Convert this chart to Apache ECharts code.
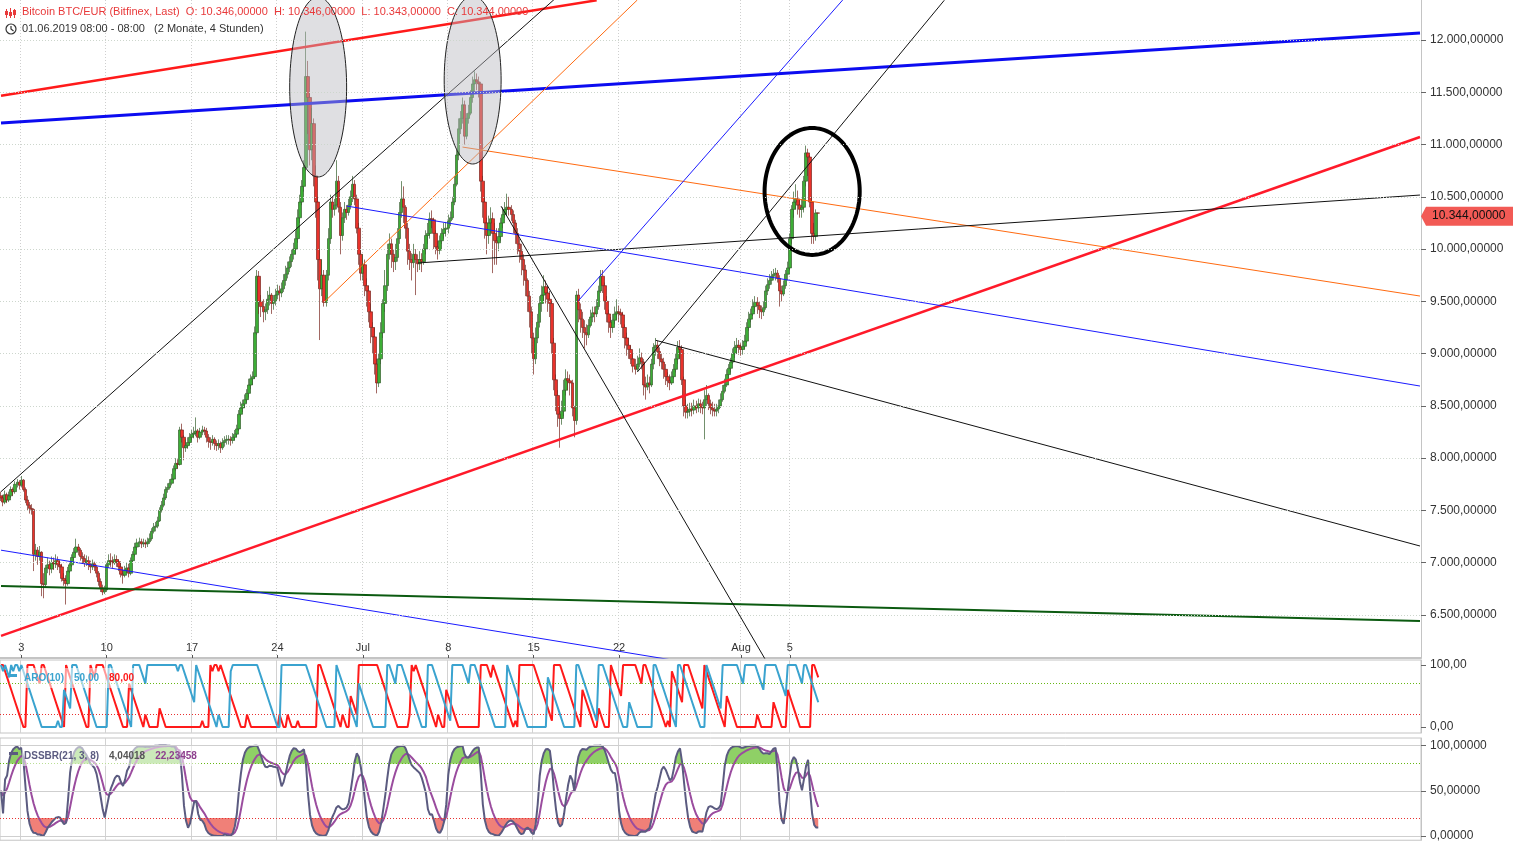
<!DOCTYPE html>
<html><head><meta charset="utf-8">
<script src="https://cdn.jsdelivr.net/npm/echarts@6/dist/echarts.min.js"></script>
<style>html,body{margin:0;padding:0;background:#fff;overflow:hidden}#c{width:1513px;height:842px}</style>
</head><body><div id="c"></div>
<script>
// ---------------- DATA (4-hour candles, BTC/EUR Bitfinex, from 01.06.2019 08:00) ----------------
const firstOpen = 7640;
const closes = [
 7620,7580,7650,7600,
 7640,7700,7680,7750,7770,7740,
 7790,7700,7600,7550,7520,7510,
 7080,7120,7060,7100,6800,6790,
 6950,6980,6940,7000,6990,7020,
 6980,6960,6850,6830,6800,6920,
 6980,7050,7100,7150,7120,7060,
 7040,7000,7020,6980,6960,6990,
 6960,6900,6820,6760,6720,6740,
 6980,7020,7010,7000,7030,7010,
 6960,6890,6880,6930,6950,6900,
 7020,7080,7150,7190,7200,7180,
 7190,7180,7200,7230,7300,7340,
 7350,7400,7500,7550,7620,7700,
 7720,7760,7800,7900,7950,7940,
 8270,8200,8100,8120,8150,8200,
 8230,8240,8260,8200,8250,8270,
 8260,8200,8160,8150,8180,8140,
 8120,8140,8100,8150,8170,8180,
 8180,8170,8200,8230,8280,8420,
 8480,8520,8560,8620,8700,8760,
 8780,9200,9740,9500,9450,9400,
 9420,9520,9560,9480,9500,9560,
 9600,9580,9620,9700,9760,9820,
 9880,9950,10000,10100,10300,10450,
 10600,10780,11650,11450,10950,11200,
 10700,10450,9900,9620,9750,9490,
 9750,10100,10450,10380,10420,10650,
 10400,10130,10300,10380,10350,10420,
 10500,10620,10480,10200,9950,9770,
 9850,9650,9600,9400,9250,9160,
 8900,8720,8950,9200,9480,9650,
 9950,10050,9950,9880,9920,10100,
 10350,10480,10400,10200,9980,9900,
 9870,9950,9900,9860,9900,9880,
 10000,10130,10150,10290,10280,10150,
 10020,9990,10080,10150,10190,10200,
 10270,10300,10450,10620,10900,11150,
 11250,11380,11080,11250,11300,11450,
 11580,11620,11600,11580,10650,10450,
 10250,10130,10250,10290,10150,10080,
 10060,10120,10250,10330,10380,10400,
 10380,10330,10250,10150,10050,9980,
 9900,9800,9700,9550,9400,9150,
 8950,9150,9300,9480,9560,9640,
 9580,9520,9480,9100,8750,8600,
 8420,8380,8450,8650,8760,8740,
 8720,8480,8360,9560,9420,9330,
 9250,9200,9180,9270,9350,9390,
 9380,9450,9600,9740,9650,9500,
 9380,9300,9250,9320,9380,9400,
 9390,9370,9250,9150,9080,9040,
 8950,8880,8850,8900,8960,8920,
 8700,8680,8720,8700,8900,9060,
 9080,9020,8950,8920,8850,8780,
 8740,8720,8780,8850,8950,9060,
 9040,8750,8500,8440,8450,8470,
 8460,8500,8480,8520,8490,8480,
 8560,8600,8520,8480,8460,8450,
 8470,8500,8560,8640,8700,8800,
 8860,8920,9000,9060,9080,9060,
 9040,9070,9120,9250,9330,9380,
 9450,9490,9460,9420,9400,9440,
 9600,9660,9700,9740,9760,9770,
 9720,9600,9570,9650,9760,9820,
 10100,10380,10450,10480,10420,10380,
 10400,10650,10920,10880,10450,10150,
 10120,10346,10344
];
const highs = [
 7680,7650,7690,7670,
 7680,7730,7720,7780,7800,7790,
 7830,7800,7720,7640,7580,7560,
 7520,7180,7150,7160,7110,6900,
 6980,7050,7020,7060,7050,7080,
 7060,7020,6990,6900,6880,6960,
 7010,7080,7140,7230,7180,7140,
 7100,7080,7070,7060,7020,7030,
 7010,6980,6920,6850,6790,6780,
 7000,7080,7090,7060,7080,7070,
 7030,7000,6930,6970,7000,6990,
 7050,7110,7190,7230,7240,7230,
 7230,7220,7240,7280,7330,7380,
 7390,7440,7530,7590,7660,7730,
 7760,7800,7850,7930,8000,7990,
 8300,8330,8220,8180,8200,8240,
 8270,8300,8390,8280,8290,8310,
 8300,8290,8230,8200,8220,8200,
 8170,8180,8160,8190,8210,8220,
 8220,8210,8240,8270,8320,8460,
 8540,8560,8610,8660,8760,8800,
 8830,9260,9800,9790,9560,9520,
 9480,9600,9640,9580,9560,9620,
 9660,9650,9680,9760,9840,9880,
 9930,10000,10060,10180,10380,10520,
 10660,10850,12080,11800,11500,11350,
 11250,10800,10500,10000,9900,9800,
 9800,10200,10520,10500,10480,10850,
 10700,10450,10350,10450,10420,10480,
 10560,10700,10660,10520,10250,10000,
 9950,9900,9720,9650,9480,9300,
 9250,8950,9000,9300,9520,9800,
 10050,10150,10100,10000,10050,10200,
 10450,10650,10600,10420,10250,10050,
 9960,10050,10000,9950,9980,9960,
 10050,10180,10250,10350,10370,10300,
 10180,10080,10130,10200,10250,10260,
 10330,10360,10500,10700,10950,11250,
 11320,11450,11420,11300,11380,11520,
 11650,11700,11680,11650,11600,10700,
 10500,10300,10320,10400,10350,10250,
 10200,10200,10300,10400,10450,10530,
 10500,10420,10370,10280,10200,10100,
 10050,9950,9850,9720,9600,9450,
 9200,9250,9380,9550,9650,9750,
 9700,9650,9600,9500,9150,8800,
 8650,8500,8550,8750,8850,8830,
 8800,8750,8500,9600,9620,9480,
 9400,9320,9280,9330,9420,9450,
 9450,9520,9650,9800,9800,9680,
 9550,9420,9350,9380,9450,9520,
 9460,9430,9400,9280,9200,9150,
 9080,9000,8950,8980,9050,9010,
 8950,8780,8800,8780,8950,9100,
 9150,9120,9060,9000,8960,8900,
 8820,8800,8830,8900,9000,9120,
 9130,9080,8780,8560,8520,8530,
 8530,8560,8550,8570,8560,8540,
 8650,8700,8620,8560,8540,8520,
 8520,8560,8620,8700,8760,8850,
 8900,8960,9050,9120,9150,9130,
 9100,9130,9180,9300,9400,9430,
 9520,9550,9540,9500,9460,9500,
 9650,9720,9760,9790,9810,9820,
 9800,9750,9650,9700,9800,9880,
 10150,10420,10550,10620,10560,10480,
 10480,10700,10990,10960,10900,10500,
 10250,10380,10346
];
const lows = [
 7590,7540,7560,7570,
 7580,7620,7640,7660,7720,7700,
 7720,7680,7570,7500,7470,7460,
 6920,7020,6980,7020,6680,6660,
 6770,6900,6880,6900,6930,6950,
 6930,6900,6820,6780,6600,6780,
 6900,6960,7020,7080,7070,7020,
 6990,6960,6970,6930,6900,6930,
 6920,6860,6780,6720,6690,6700,
 6720,6950,6960,6950,6980,6960,
 6920,6860,6800,6860,6900,6860,
 6880,7000,7060,7120,7150,7140,
 7150,7140,7150,7180,7210,7280,
 7300,7330,7390,7480,7530,7600,
 7670,7700,7740,7790,7880,7900,
 7930,8150,7980,8060,8090,8130,
 8170,8190,8210,8150,8180,8220,
 8220,8150,8100,8080,8120,8080,
 8070,8080,8050,8080,8110,8130,
 8130,8120,8140,8170,8200,8260,
 8400,8440,8480,8530,8580,8660,
 8700,8760,9180,9380,9350,9300,
 9320,9380,9460,9380,9420,9460,
 9520,9500,9540,9590,9650,9720,
 9780,9830,9900,9950,10060,10250,
 10420,10550,10750,11100,10800,10850,
 10600,10300,9700,9130,9550,9450,
 9450,9700,10050,10300,10320,10380,
 10350,9950,10080,10250,10280,10320,
 10380,10450,10420,10150,9850,9700,
 9700,9550,9450,9300,9100,9000,
 8800,8620,8680,8900,9150,9400,
 9600,9900,9820,9780,9800,9880,
 10050,10300,10250,10100,9850,9800,
 9700,9820,9560,9780,9800,9780,
 9850,9950,10050,10100,10200,10000,
 9950,9900,9950,10050,10100,10120,
 10150,10220,10280,10420,10600,10850,
 11100,11200,11000,11050,11200,11280,
 11400,11500,11520,11450,10550,10300,
 10100,9950,10050,10150,9770,9850,
 9850,9980,10080,10200,10300,10330,
 10320,10270,10150,10050,9950,9870,
 9750,9650,9550,9400,9250,9000,
 8800,8900,9100,9250,9400,9500,
 9480,9400,9350,9000,8650,8450,
 8300,8100,8320,8400,8600,8650,
 8600,8400,8200,8320,9300,9200,
 9150,9050,9080,9150,9250,9300,
 9300,9350,9420,9580,9580,9420,
 9300,9200,9150,9200,9280,9320,
 9300,9280,9150,9050,8980,8950,
 8900,8820,8800,8830,8870,8850,
 8600,8560,8650,8620,8680,8850,
 8980,8950,8880,8850,8760,8700,
 8680,8650,8700,8760,8820,8900,
 8950,8700,8400,8380,8380,8400,
 8400,8420,8430,8440,8430,8420,
 8180,8500,8460,8420,8400,8400,
 8400,8430,8480,8540,8620,8680,
 8760,8820,8900,8960,9000,8990,
 8980,8990,9040,9100,9220,9300,
 9360,9400,9380,9340,9330,9360,
 9420,9560,9620,9660,9700,9700,
 9680,9450,9500,9550,9620,9700,
 9800,10050,10300,10380,10330,10300,
 10300,10350,10600,10700,10400,10050,
 10050,10080,10343
];
// x axis: first slot and number of 4h slots shown (data + empty future area)
const firstSlotUTC = Date.UTC(2019, 5, 1, 8);
const slotCount = 699;
// x tick labels (slot time -> label)
const xTickLabels = [
 ['2019-06-03 00:00','3'],['2019-06-10 00:00','10'],['2019-06-17 00:00','17'],['2019-06-24 00:00','24'],
 ['2019-07-01 00:00','Jul'],['2019-07-08 00:00','8'],['2019-07-15 00:00','15'],['2019-07-22 00:00','22'],
 ['2019-08-01 00:00','Aug'],['2019-08-05 00:00','5']
];
const priceTicks = [6500,7000,7500,8000,8500,9000,9500,10000,10500,11000,11500,12000];
const priceRange = [6088.7, 12382.6];
const aroonTicks = [0, 100];
const aroonLevels = [70, 20];
const dssTicks = [0, 50, 100];
const dssLevels = [80, 20];
// drawn trend lines: [slotIndex, price] endpoints
const trendRedUpper   = [[0, 11466], [293, 12380]];
const trendBlueThick  = [[0, 11206], [698, 12067]];
const trendRedLower   = [[0, 6300],  [698, 11072]];
const trendGreen      = [[0, 6777],  [698, 6443]];
const trendBlueLow    = [[0, 7120],  [330, 6070]];
const trendBlackA     = [[0, 7680],  [272, 12386]];
const trendOrangeUp   = [[159, 9494],[313, 12383]];
const trendOrangeDown = [[227, 10976],[698, 9551]];
const trendBlueDown   = [[170, 10412],[698, 8690]];
const trendBlackFlat  = [[205, 9867],[698, 10517]];
const trendBlackSteep = [[246, 10410],[377, 6040]];
const trendBlueUp     = [[284, 9506],[414, 12382]];
const trendBlackUp2   = [[313, 8824],[464, 12380]];
const trendBlackDown2 = [[322, 9128],[698, 7160]];
// ellipses: [centerSlot, centerPrice, radiusInSlots, radiusInPrice]
const ellipses = [[156, 11550, 14, 860], [232, 11617, 14, 803], [399, 10551, 23.4, 607]];
// header texts
const headerLine1 = 'Bitcoin BTC/EUR (Bitfinex, Last)  O: 10.346,00000  H: 10.346,00000  L: 10.343,00000  C: 10.344,00000';
const headerLine2 = '01.06.2019 08:00 - 08:00   (2 Monate, 4 Stunden)';
const aroonLegend = ['ARO(10)', '50,00', '80,00'];
const dssLegend = ['DSSBR(21, 3, 8)', '4,04018', '22,23458'];

// ---------------- helpers ----------------
function pad(n){return String(n).padStart(2,'0');}
function slotName(i){const d=new Date(firstSlotUTC+i*4*3600e3);return d.getUTCFullYear()+'-'+pad(d.getUTCMonth()+1)+'-'+pad(d.getUTCDate())+' '+pad(d.getUTCHours())+':00';}
function de(v,dec){const s=Number(v).toFixed(dec);const parts=s.split('.');return parts[0].replace(/\B(?=(\d{3})+(?!\d))/g,'.')+(parts[1]?','+parts[1]:'');}
const slots = Array.from({length: slotCount}, (_, i) => slotName(i));
const tickMap = new Map(xTickLabels);
const ohlc = closes.map((c,i)=>[i===0?firstOpen:closes[i-1], c, lows[i], highs[i]]);

// Aroon(10)
const P=10;
const aroonUp=[], aroonDown=[];
for(let i=0;i<closes.length;i++){
  const s=Math.max(0,i-P); let hi=s, lo=s;
  for(let k=s;k<=i;k++){ if(highs[k]>=highs[hi]) hi=k; if(lows[k]<=lows[lo]) lo=k; }
  aroonUp.push((P-(i-hi))/P*100); aroonDown.push((P-(i-lo))/P*100);
}
// DSS Bressert (21,3,8)
function ema(a,n){const al=2/(n+1);let p=null;return a.map(v=>{p=p==null?v:p+al*(v-p);return p;});}
const N=21;
const st1=closes.map((c,i)=>{const s=Math.max(0,i-N+1);let hh=-Infinity,ll=Infinity;for(let k=s;k<=i;k++){hh=Math.max(hh,highs[k]);ll=Math.min(ll,lows[k]);}return hh===ll?50:(c-ll)/(hh-ll)*100;});
const x1=ema(st1,3);
const st2=x1.map((v,i)=>{const s=Math.max(0,i-N+1);let hh=-Infinity,ll=Infinity;for(let k=s;k<=i;k++){hh=Math.max(hh,x1[k]);ll=Math.min(ll,x1[k]);}return hh===ll?50:(v-ll)/(hh-ll)*100;});
const dss=ema(st2,3);
const dssSig=ema(dss,8);

// ---------------- chart ----------------
const FONT='"Liberation Sans", Arial, sans-serif';
const chart=echarts.init(document.getElementById('c'));
const catAxis=(gi, showLabels, dotted)=>({
  type:'category', gridIndex:gi, data:slots, boundaryGap:true,
  axisLine:{show:gi===0, lineStyle:{color:'#c4c4c4', width:2}},
  axisTick:{show:gi===0, inside:true, length:3, alignWithLabel:true, interval:(i,v)=>tickMap.has(v), lineStyle:{color:'#555'}},
  axisLabel:{show:showLabels, inside:true, margin:5, interval:(i,v)=>tickMap.has(v), formatter:v=>tickMap.get(v)||'', color:'#333', fontSize:11, fontFamily:FONT},
  splitLine:{show:true, interval:(i,v)=>tickMap.has(v), lineStyle:{color: dotted?'#cfcfcf':'#d2d2d2', type: dotted?[1,2]:'solid', width:1}}
});
const valAxis=(gi,range,ticks,dec)=>({
  type:'value', gridIndex:gi, position:'right', min:range[0], max:range[1],
  axisLine:{show:true, lineStyle:{color:'#c4c4c4'}},
  axisTick:{show:true, customValues:ticks, length:5, lineStyle:{color:'#666'}},
  axisLabel:{show:true, customValues:ticks, formatter:v=>de(v,dec), color:'#333', fontSize:12, margin:9, fontFamily:FONT},
  splitLine:{show:false}
});
function trend(data,color,width,z){return {type:'line', xAxisIndex:0, yAxisIndex:0, data, symbol:'none', silent:true, clip:true, z:z||3, lineStyle:{color, width}, animation:false};}
function hLines(vals,color,type){return {silent:true, symbol:'none', label:{show:false}, lineStyle:{color, type, width:1}, data:vals.map(v=>({yAxis:v}))};}
const ellipseStyles=[
 {fill:'rgba(185,185,190,0.45)', stroke:'#222', width:1},
 {fill:'rgba(185,185,190,0.45)', stroke:'#222', width:1},
 {fill:'none', stroke:'#000', width:4}
];

const option={
  animation:false,
  backgroundColor:'#ffffff',
  textStyle:{fontFamily:FONT},
  grid:[
    {left:0, top:0, width:1421, height:658},
    {left:0, top:660, width:1421, height:73, show:true, borderColor:'#c4c4c4', borderWidth:1},
    {left:0, top:738, width:1421, height:104, show:true, borderColor:'#c4c4c4', borderWidth:1}
  ],
  xAxis:[catAxis(0,true,true), catAxis(1,false,false), catAxis(2,false,false)],
  yAxis:[
    valAxis(0, priceRange, priceTicks, 5),
    valAxis(1, [-9.68, 108.06], aroonTicks, 2),
    valAxis(2, [-4.67, 108.37], dssTicks, 5)
  ],
  title:[
    {left:22, top:6, padding:0, text:headerLine1, textStyle:{color:'#e8393a', fontSize:11, fontWeight:'normal', fontFamily:FONT}},
    {left:22, top:23, padding:0, text:headerLine2, textStyle:{color:'#333', fontSize:11, fontWeight:'normal', fontFamily:FONT}},
    {left:22, top:668, text:'{a|'+aroonLegend[0]+'}  {a|'+aroonLegend[1]+'}  {b|'+aroonLegend[2]+'}', backgroundColor:'rgba(255,255,255,0.55)', padding:[1,2],
     textStyle:{rich:{a:{color:'#3aa3cf', fontSize:10, fontFamily:FONT}, b:{color:'#ff1a1a', fontSize:10, fontFamily:FONT}}}},
    {left:22, top:746, text:'{a|'+dssLegend[0]+'}  {g|'+dssLegend[1]+'}  {b|'+dssLegend[2]+'}', backgroundColor:'rgba(255,255,255,0.55)', padding:[1,2],
     textStyle:{rich:{a:{color:'#5b5b80', fontSize:10, fontFamily:FONT}, g:{color:'#555', fontSize:10, fontFamily:FONT}, b:{color:'#8e3f8e', fontSize:10, fontFamily:FONT}}}}
  ],
  series:[
    {type:'candlestick', name:'BTC/EUR', xAxisIndex:0, yAxisIndex:0, data:ohlc, barWidth:3, z:2,
     itemStyle:{color:'#3cae36', color0:'#ea322b', borderColor:'#36602e', borderColor0:'#7a2620', borderWidth:0.7},
     markLine:hLines(priceTicks,'#cdd6cd',[1,2])},
    trend(trendRedUpper,'#ff1a1a',2.5),
    trend(trendBlueThick,'#0c0cf0',3),
    trend(trendRedLower,'#ff1a2a',2.5),
    trend(trendGreen,'#0b5a10',2),
    trend(trendBlueLow,'#1a1aff',1),
    trend(trendBlackA,'#111',1),
    trend(trendOrangeUp,'#ff6a10',1),
    trend(trendOrangeDown,'#ff6a10',1),
    trend(trendBlueDown,'#1a1aff',1),
    trend(trendBlackFlat,'#111',1),
    trend(trendBlackSteep,'#111',1),
    trend(trendBlueUp,'#1a1aff',1),
    trend(trendBlackUp2,'#111',1),
    trend(trendBlackDown2,'#111',1),
    {type:'custom', xAxisIndex:0, yAxisIndex:0, data:ellipses, clip:true, z:4, silent:true,
     renderItem:(params,api)=>{
       const c=api.coord([api.value(0),api.value(1)]);
       const bw=api.size([1,0])[0];
       const rx=api.value(2)*bw;
       const ry=c[1]-api.coord([api.value(0),api.value(1)+api.value(3)])[1];
       const pts=[];for(let k=0;k<120;k++){const t=k/120*2*Math.PI;pts.push([c[0]+rx*Math.cos(t),c[1]+ry*Math.sin(t)]);}
       const s=ellipseStyles[params.dataIndex];
       return {type:'polygon', shape:{points:pts}, style:{fill:s.fill, stroke:s.stroke, lineWidth:s.width}};
     }},
    // Aroon
    {type:'line', xAxisIndex:1, yAxisIndex:1, data:aroonDown, symbol:'none', lineStyle:{color:'#ff1a1a', width:2}, z:3,
     markLine:{silent:true, symbol:'none', label:{show:false}, data:[{yAxis:aroonLevels[0], lineStyle:{color:'#66b814', type:[1,2], width:1}},{yAxis:aroonLevels[1], lineStyle:{color:'#e83030', type:[1,2], width:1}}]}},
    {type:'line', xAxisIndex:1, yAxisIndex:1, data:aroonUp, symbol:'none', lineStyle:{color:'#3aa3cf', width:2}, z:3},
    // DSS fills
    {type:'line', xAxisIndex:2, yAxisIndex:2, stack:'r', data:dss.map(v=>Math.min(v,dssLevels[1])), symbol:'none', lineStyle:{opacity:0}, silent:true, z:1},
    {type:'line', xAxisIndex:2, yAxisIndex:2, stack:'r', data:dss.map(v=>dssLevels[1]-Math.min(v,dssLevels[1])), symbol:'none', lineStyle:{opacity:0}, areaStyle:{color:'#f08078', opacity:1}, silent:true, z:1},
    {type:'line', xAxisIndex:2, yAxisIndex:2, stack:'g', data:dss.map(()=>dssLevels[0]), symbol:'none', lineStyle:{opacity:0}, silent:true, z:1},
    {type:'line', xAxisIndex:2, yAxisIndex:2, stack:'g', data:dss.map(v=>Math.max(v,dssLevels[0])-dssLevels[0]), symbol:'none', lineStyle:{opacity:0}, areaStyle:{color:'#8fd066', opacity:1}, silent:true, z:1},
    {type:'line', xAxisIndex:2, yAxisIndex:2, data:dssSig, symbol:'none', lineStyle:{color:'#9a4c9e', width:2}, z:3,
     markLine:{silent:true, symbol:'none', label:{show:false}, data:[
       {yAxis:dssTicks[1], lineStyle:{color:'#cfcfcf', type:'solid', width:1}},
       {yAxis:dssTicks[0], lineStyle:{color:'#cfcfcf', type:'solid', width:1}},
       {yAxis:dssTicks[2], lineStyle:{color:'#cfcfcf', type:'solid', width:1}},
       {yAxis:dssLevels[0], lineStyle:{color:'#66b814', type:[1,2], width:1}},
       {yAxis:dssLevels[1], lineStyle:{color:'#e83030', type:[1,2], width:1}}]}},
    {type:'line', xAxisIndex:2, yAxisIndex:2, data:dss, symbol:'none', lineStyle:{color:'#5b5b80', width:2}, z:4}
  ]
};
chart.setOption(option);

// last price badge + header icons
const lastClose=closes[closes.length-1];
const yb=chart.convertToPixel({yAxisIndex:0}, lastClose)+3;
const xr=chart.convertToPixel({xAxisIndex:0}, slots[slotCount-1])+1421/slotCount/2;
chart.setOption({graphic:[
  {type:'polygon', shape:{points:[[xr,yb],[xr+5,yb-9.5],[1513,yb-9.5],[1513,yb+9.5],[xr+5,yb+9.5]]}, style:{fill:'#f25a55'}, z:100},
  {type:'text', x:xr+11, y:yb, style:{text:de(lastClose,5), fill:'#111', font:'12px '+FONT, verticalAlign:'middle'}, z:101},
  // candlestick icon in header
  {type:'rect', shape:{x:6,y:9,width:1,height:9}, style:{fill:'#e8393a'}, z:100},
  {type:'rect', shape:{x:5,y:11,width:3,height:4}, style:{fill:'#e8393a'}, z:100},
  {type:'rect', shape:{x:10,y:8,width:1,height:10}, style:{fill:'#e8393a'}, z:100},
  {type:'rect', shape:{x:9,y:12,width:3,height:4}, style:{fill:'#e8393a'}, z:100},
  {type:'rect', shape:{x:14,y:9,width:1,height:9}, style:{fill:'#e8393a'}, z:100},
  {type:'rect', shape:{x:13,y:10,width:3,height:5}, style:{fill:'#e8393a'}, z:100},
  // clock icon
  {type:'circle', shape:{cx:11, cy:29, r:5}, style:{fill:'none', stroke:'#333', lineWidth:1.2}, z:100},
  {type:'polyline', shape:{points:[[11,26],[11,29],[13.5,31]]}, style:{stroke:'#333', lineWidth:1.2, fill:'none'}, z:100},
  // indicator legend dashes
  {type:'rect', shape:{x:9,y:674,width:8,height:3}, style:{fill:'#3aa3cf'}, z:100},
  {type:'rect', shape:{x:9,y:752,width:9,height:3}, style:{fill:'#5b5b80'}, z:100}
]});
</script></body></html>
